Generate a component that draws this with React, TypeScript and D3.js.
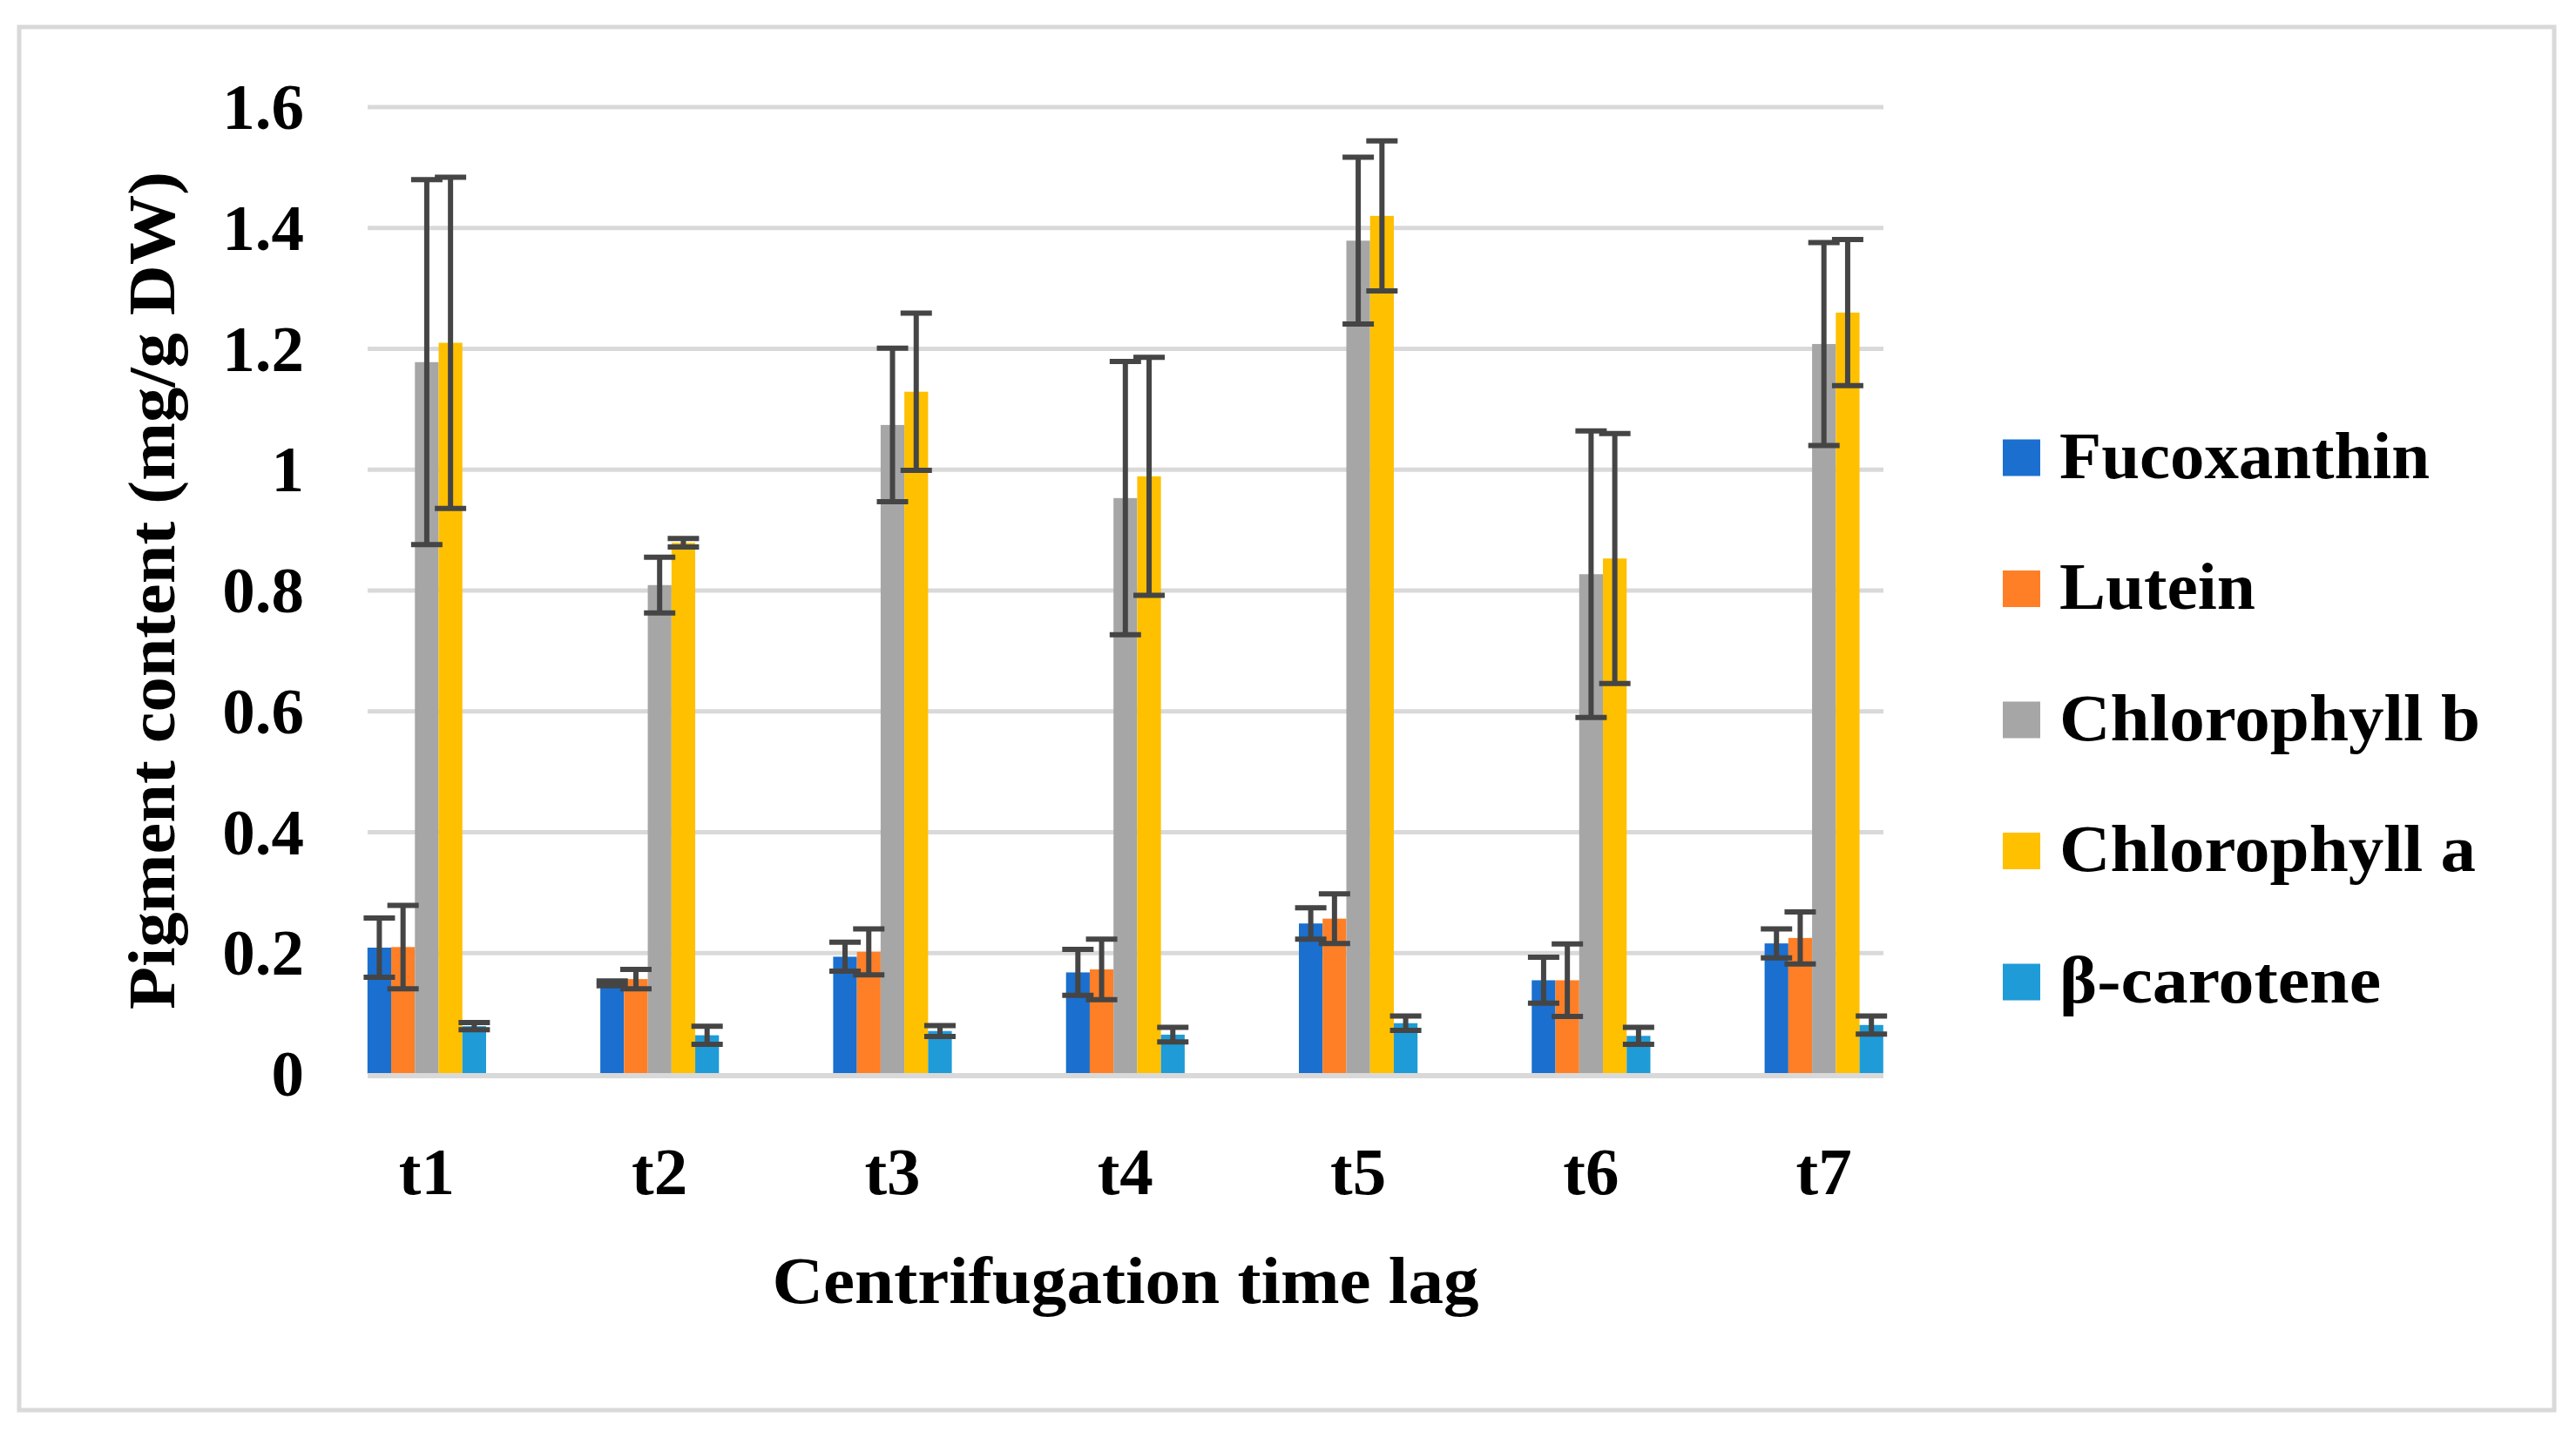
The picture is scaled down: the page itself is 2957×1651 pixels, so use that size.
import React from "react";
import * as d3 from "d3";

const categories = ["t1", "t2", "t3", "t4", "t5", "t6", "t7"];
const seriesNames = ["Fucoxanthin", "Lutein", "Chlorophyll b", "Chlorophyll a", "β-carotene"];
const seriesColors = ["#1A6FCF", "#FF7F27", "#A6A6A6", "#FFC000", "#1F9BD7"];

const fucoxanthin = [0.209, 0.150, 0.194, 0.168, 0.249, 0.155, 0.216];
const fucoxanthinErr = [0.049, 0.004, 0.024, 0.038, 0.026, 0.038, 0.024];
const lutein = [0.210, 0.157, 0.202, 0.173, 0.257, 0.155, 0.225];
const luteinErr = [0.069, 0.016, 0.038, 0.050, 0.041, 0.060, 0.043];
const chlorophyllB = [1.178, 0.809, 1.074, 0.953, 1.379, 0.827, 1.208];
const chlorophyllBErr = [0.302, 0.046, 0.127, 0.226, 0.138, 0.237, 0.168];
const chlorophyllA = [1.210, 0.879, 1.129, 0.989, 1.420, 0.853, 1.260];
const chlorophyllAErr = [0.274, 0.007, 0.130, 0.197, 0.124, 0.207, 0.121];
const betaCarotene = [0.079, 0.064, 0.071, 0.065, 0.084, 0.063, 0.081];
const betaCaroteneErr = [0.006, 0.015, 0.009, 0.012, 0.012, 0.014, 0.015];

const yTicks = [0, 0.2, 0.4, 0.6, 0.8, 1, 1.2, 1.4, 1.6];
const yTickLabels = ["0", "0.2", "0.4", "0.6", "0.8", "1", "1.2", "1.4", "1.6"];

const W = 2957;
const H = 1651;
const FONT = "'Liberation Serif', 'Times New Roman', serif";
const legendTextWidths = [425, 225, 483, 478, 369];

export default function App() {
  const values = [fucoxanthin, lutein, chlorophyllB, chlorophyllA, betaCarotene];
  const errs = [fucoxanthinErr, luteinErr, chlorophyllBErr, chlorophyllAErr, betaCaroteneErr];

  const x = d3.scaleBand<string>().domain(categories).range([356.25, 2227.35]).paddingInner(0).paddingOuter(0);
  const groupW = 136.2;
  const xs = d3.scaleBand<string>().domain(seriesNames).range([0, groupW]);
  const y = d3.scaleLinear().domain([0, 1.6]).range([1233, 123]);
  const gridX1 = 422;
  const gridX2 = 2162;
  const capW = 36;

  return (
    <svg width={W} height={H} style={{ position: "absolute", left: 0, top: 0, background: "#fff" }}>
      <rect x={0} y={0} width={W} height={H} fill="#fff" />
      <rect x={22} y={31} width={2910} height={1588} fill="#fff" stroke="#d9d9d9" strokeWidth={5} />
      {/* gridlines */}
      {yTicks.slice(1).map((t) => (
        <line key={t} x1={gridX1} x2={gridX2} y1={y(t)} y2={y(t)} stroke="#d9d9d9" strokeWidth={5} />
      ))}
      {/* bars */}
      {categories.map((c, ci) => {
        const gx = (x(c) as number) + (x.bandwidth() - groupW) / 2;
        return (
          <g key={c}>
            {seriesNames.map((s, si) => (
              <rect
                key={s}
                x={gx + (xs(s) as number)}
                y={y(values[si][ci])}
                width={xs.bandwidth()}
                height={y(0) - y(values[si][ci])}
                fill={seriesColors[si]}
              />
            ))}
          </g>
        );
      })}
      {/* baseline */}
      <line x1={gridX1} x2={gridX2} y1={y(0) + 2} y2={y(0) + 2} stroke="#d9d9d9" strokeWidth={6} />
      {/* error bars */}
      {categories.map((c, ci) => {
        const gx = (x(c) as number) + (x.bandwidth() - groupW) / 2;
        return (
          <g key={c + "e"} stroke="#454545" strokeWidth={6}>
            {seriesNames.map((s, si) => {
              const cx = gx + (xs(s) as number) + xs.bandwidth() / 2;
              const v = values[si][ci];
              const e = errs[si][ci];
              const yt = y(v + e);
              const yb = y(v - e);
              return (
                <g key={s}>
                  <line x1={cx} x2={cx} y1={yt} y2={yb} />
                  <line x1={cx - capW / 2} x2={cx + capW / 2} y1={yt} y2={yt} />
                  <line x1={cx - capW / 2} x2={cx + capW / 2} y1={yb} y2={yb} />
                </g>
              );
            })}
          </g>
        );
      })}
      {/* y tick labels */}
      {yTicks.map((t, i) => (
        <text key={t} x={349} y={y(t) + 25} textAnchor="end" fontFamily={FONT} fontWeight="bold" fontSize={75} fill="#000">
          {yTickLabels[i]}
        </text>
      ))}
      {/* x tick labels */}
      {categories.map((c) => (
        <text key={c} x={(x(c) as number) + x.bandwidth() / 2} y={1371} textAnchor="middle" fontFamily={FONT} fontWeight="bold" fontSize={77} fill="#000">
          {c}
        </text>
      ))}
      {/* axis titles */}
      <text x={1292} y={1496} textAnchor="middle" fontFamily={FONT} fontWeight="bold" fontSize={77} fill="#000" textLength={811} lengthAdjust="spacingAndGlyphs">
        Centrifugation time lag
      </text>
      <text
        transform={`translate(200, ${(y(0) + y(1.6)) / 2}) rotate(-90)`}
        textAnchor="middle"
        fontFamily={FONT}
        fontWeight="bold"
        fontSize={77}
        fill="#000"
        textLength={962}
        lengthAdjust="spacingAndGlyphs"
      >
        Pigment content (mg/g DW)
      </text>
      {/* legend */}
      {seriesNames.map((s, i) => {
        const cy = 525.5 + i * 150.5;
        return (
          <g key={s}>
            <rect x={2299} y={cy - 21} width={43} height={42} fill={seriesColors[i]} />
            <text
              x={2364}
              y={cy + 23}
              fontFamily={FONT}
              fontWeight="bold"
              fontSize={77}
              fill="#000"
              textLength={legendTextWidths[i]}
              lengthAdjust="spacingAndGlyphs"
            >
              {s}
            </text>
          </g>
        );
      })}
    </svg>
  );
}
